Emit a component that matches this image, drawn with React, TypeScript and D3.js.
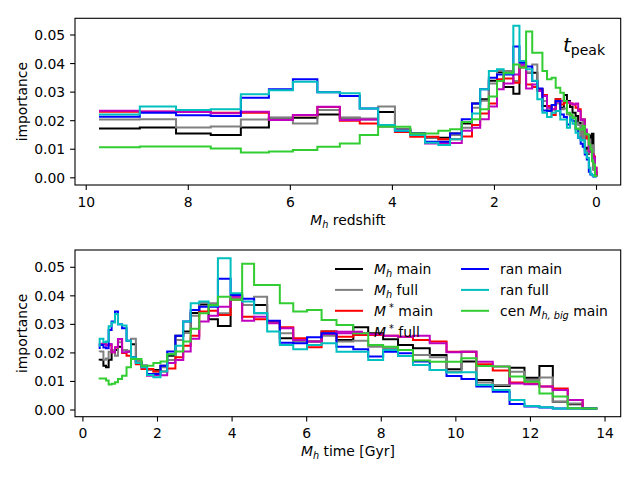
import React from "react";
import * as d3 from "d3";

// snapshot redshifts (top panel) and cosmic times in Gyr (bottom panel)
const snapZ = [
  9.75, 8.95, 8.24, 7.56, 6.97, 6.42, 5.95, 5.47, 5.03, 4.64,
  4.28, 3.95, 3.65, 3.36, 3.1, 2.87, 2.64, 2.44, 2.28, 2.11,
  1.95, 1.82, 1.63, 1.51, 1.38, 1.26, 1.16, 1.06, 0.97, 0.88,
  0.8, 0.71, 0.64, 0.58, 0.52, 0.47, 0.41, 0.36, 0.31, 0.27,
  0.23, 0.19, 0.15, 0.12, 0.09, 0.06, 0.03, 0.0,
];
const snapT = [
  0.45, 0.55, 0.62, 0.69, 0.77, 0.86, 0.94, 1.05, 1.17, 1.29,
  1.42, 1.57, 1.72, 1.89, 2.08, 2.26, 2.48, 2.69, 2.89, 3.12,
  3.37, 3.62, 3.96, 4.27, 4.59, 4.94, 5.28, 5.64, 6.01, 6.4,
  6.8, 7.25, 7.65, 8.05, 8.45, 8.85, 9.3, 9.75, 10.15, 10.55,
  10.99, 11.44, 11.84, 12.24, 12.6, 13.0, 13.4, 13.79,
];

// importance per snapshot
const mhMain = [
  0.0173, 0.0176, 0.0155, 0.015, 0.0176, 0.021, 0.021, 0.0222, 0.021, 0.0205,
  0.023, 0.017, 0.0155, 0.014, 0.014, 0.0155, 0.019, 0.026, 0.0275, 0.034,
  0.037, 0.0318, 0.0294, 0.039, 0.0368, 0.0368, 0.031, 0.0251, 0.0248, 0.024,
  0.0275, 0.0245, 0.029, 0.0269, 0.0248, 0.0228, 0.0216, 0.0193, 0.0143, 0.017,
  0.0105, 0.0084, 0.0148, 0.0113, 0.0154, 0.0029, 0.002, 0.0005,
];
const mhFull = [
  0.0204, 0.0205, 0.0176, 0.018, 0.0204, 0.021, 0.019, 0.0237, 0.021, 0.0208,
  0.025, 0.017, 0.015, 0.014, 0.0135, 0.015, 0.0175, 0.0245, 0.027, 0.033,
  0.0375, 0.0374, 0.0339, 0.039, 0.0368, 0.0397, 0.031, 0.0269, 0.024, 0.024,
  0.026, 0.024, 0.0243, 0.0222, 0.0216, 0.021, 0.0193, 0.0185, 0.0134, 0.0204,
  0.0096, 0.0088, 0.0134, 0.0105, 0.0114, 0.0029, 0.0023, 0.0005,
];
const smMain = [
  0.0231, 0.0231, 0.0233, 0.0228, 0.0228, 0.0202, 0.0219, 0.0248, 0.02, 0.019,
  0.0185, 0.016, 0.0144, 0.0144, 0.0135, 0.0135, 0.0145, 0.0185, 0.0225, 0.026,
  0.0345, 0.0348, 0.0333, 0.0386, 0.0327, 0.0318, 0.031, 0.029, 0.0251, 0.022,
  0.0275, 0.0257, 0.0263, 0.0263, 0.026, 0.0257, 0.0245, 0.024, 0.0204, 0.0204,
  0.016, 0.0138, 0.0096, 0.0093, 0.0082, 0.0075, 0.0035, 0.0006,
];
const smFull = [
  0.0235, 0.0232, 0.023, 0.0226, 0.0231, 0.0202, 0.022, 0.0249, 0.0202, 0.0204,
  0.018, 0.0165, 0.015, 0.012, 0.0122, 0.0122, 0.0165, 0.0175, 0.0205, 0.025,
  0.031, 0.033, 0.0362, 0.0397, 0.0313, 0.0327, 0.0304, 0.0286, 0.0245, 0.024,
  0.0266, 0.0269, 0.0269, 0.0265, 0.026, 0.0257, 0.026, 0.0234, 0.0202, 0.0204,
  0.0169, 0.0152, 0.0093, 0.009, 0.0082, 0.007, 0.0035, 0.0005,
];
const ranMain = [
  0.0214, 0.0228, 0.0219, 0.0216, 0.028, 0.031, 0.0345, 0.03, 0.0286, 0.0243,
  0.0185, 0.0165, 0.0155, 0.0126, 0.0126, 0.0155, 0.0205, 0.026, 0.031, 0.035,
  0.0362, 0.0362, 0.046, 0.0403, 0.039, 0.0339, 0.0313, 0.0236, 0.0234, 0.0255,
  0.0269, 0.0222, 0.0213, 0.0187, 0.0204, 0.0199, 0.017, 0.014, 0.0119, 0.0109,
  0.0082, 0.0064, 0.0021, 0.0012, 0.0009, 0.0005, 0.0005, 0.0005,
];
const ranFull = [
  0.0222, 0.025, 0.0237, 0.024, 0.0293, 0.0307, 0.0336, 0.03, 0.0296, 0.0243,
  0.0185, 0.0165, 0.015, 0.0123, 0.0115, 0.0135, 0.0195, 0.0225, 0.031, 0.0374,
  0.038, 0.0365, 0.0532, 0.0409, 0.038, 0.034, 0.0275, 0.0228, 0.0213, 0.0228,
  0.0234, 0.0204, 0.0204, 0.0175, 0.021, 0.0189, 0.0158, 0.014, 0.0131, 0.0132,
  0.0088, 0.007, 0.0035, 0.0014, 0.001, 0.0005, 0.0005, 0.0005,
];
const cenMain = [
  0.0107, 0.011, 0.011, 0.0103, 0.0089, 0.0092, 0.0097, 0.0109, 0.012, 0.015,
  0.0179, 0.0179, 0.0155, 0.0155, 0.0165, 0.017, 0.0195, 0.0205, 0.024, 0.0285,
  0.0339, 0.0368, 0.0397, 0.0386, 0.0512, 0.0438, 0.0438, 0.0374, 0.0345, 0.035,
  0.0315, 0.0298, 0.0269, 0.0228, 0.0222, 0.021, 0.0173, 0.0169, 0.0169, 0.0181,
  0.0154, 0.0152, 0.0117, 0.0099, 0.0058, 0.0047, 0.0006, 0.0005,
];

const zTicks = [10, 8, 6, 4, 2, 0];
const tTicks = [0, 2, 4, 6, 8, 10, 12, 14];
const yTicks = [0, 0.01, 0.02, 0.03, 0.04, 0.05];

const FONT = "DejaVu Sans";
const FS = 13.9;

const series = [
  { key: "mhMain", color: "#000000", values: mhMain },
  { key: "mhFull", color: "#808080", values: mhFull },
  { key: "smMain", color: "#ff0000", values: smMain },
  { key: "smFull", color: "#bf00bf", values: smFull },
  { key: "ranMain", color: "#0000ff", values: ranMain },
  { key: "ranFull", color: "#00bfbf", values: ranFull },
  { key: "cenMain", color: "#32cd32", values: cenMain },
];

const Mh = (sub: string) => (
  <>
    <tspan fontStyle="italic">M</tspan>
    <tspan fontStyle="italic" fontSize={FS * 0.7} dy={3}>{sub}</tspan>
  </>
);

function legendLabel(key: string) {
  switch (key) {
    case "mhMain":
      return <>{Mh("h")}<tspan dy={-3}>{" main"}</tspan></>;
    case "mhFull":
      return <>{Mh("h")}<tspan dy={-3}>{" full"}</tspan></>;
    case "smMain":
      return <><tspan fontStyle="italic">M</tspan><tspan fontSize={FS * 0.7} dy={-5}>{" *"}</tspan><tspan dy={5}>{" main"}</tspan></>;
    case "smFull":
      return <><tspan fontStyle="italic">M</tspan><tspan fontSize={FS * 0.7} dy={-5}>{" *"}</tspan><tspan dy={5}>{" full"}</tspan></>;
    case "ranMain":
      return "ran main";
    case "ranFull":
      return "ran full";
    default:
      return <><tspan>{"cen "}</tspan>{Mh("h, big")}<tspan dy={-3}>{" main"}</tspan></>;
  }
}

const L = 75;
const R = 620.7;

function Panel({ top, bottom, x, y, xs, curve, ticks, xlabel }: any) {
  const line = d3
    .line<number>()
    .x((_, i) => x(xs[i]))
    .y((v) => y(v))
    .curve(curve);
  return (
    <g>
      {series.map((s) => (
        <path key={s.key} d={line(s.values) || ""} fill="none" stroke={s.color} strokeWidth={2} strokeLinejoin="miter" />
      ))}
      <rect x={L} y={top} width={R - L} height={bottom - top} fill="none" stroke="#000" strokeWidth={1.1} />
      {yTicks.map((t) => (
        <g key={t}>
          <line x1={L - 4.9} x2={L} y1={y(t)} y2={y(t)} stroke="#000" strokeWidth={1.1} />
          <text x={L - 9.8} y={y(t) + 5} textAnchor="end" fontSize={FS}>
            {d3.format(".2f")(t)}
          </text>
        </g>
      ))}
      {ticks.map((t: number) => (
        <g key={t}>
          <line x1={x(t)} x2={x(t)} y1={bottom} y2={bottom + 4.9} stroke="#000" strokeWidth={1.1} />
          <text x={x(t)} y={bottom + 21.5} textAnchor="middle" fontSize={FS}>
            {t}
          </text>
        </g>
      ))}
      <text x={(L + R) / 2} y={bottom + 39.5} textAnchor="middle" fontSize={FS}>
        {Mh("h")}
        <tspan dy={-3}>{xlabel}</tspan>
      </text>
      <text transform={`translate(27,${(top + bottom) / 2}) rotate(-90)`} textAnchor="middle" fontSize={FS}>
        importance
      </text>
    </g>
  );
}

export default function App() {
  const topY0 = 18.3, topY1 = 185;
  const botY0 = 250, botY1 = 416.7;

  const xTop = d3.scaleLinear().domain([10.22, -0.474]).range([L, R]);
  const yTop = d3.scaleLinear().domain([-0.00252, 0.05585]).range([topY1, topY0]);
  const xBot = d3.scaleLinear().domain([-0.212, 14.42]).range([L, R]);
  const yBot = d3.scaleLinear().domain([-0.00235, 0.05606]).range([botY1, botY0]);

  const col1 = series.slice(0, 4);
  const col2 = series.slice(4);

  return (
    <svg
      width={640}
      height={480}
      style={{ position: "absolute", left: 0, top: 0, background: "#fff" }}
      fontFamily={FONT}
    >
      <rect width={640} height={480} fill="#fff" />
      <Panel
        top={topY0}
        bottom={topY1}
        x={xTop}
        y={yTop}
        xs={snapZ}
        curve={d3.curveStepAfter}
        ticks={zTicks}
        xlabel=" redshift"
      />
      <text x={563} y={51.5} fontSize={20} fontStyle="italic">
        t<tspan fontStyle="normal" fontSize={14} dy={3.5}>peak</tspan>
      </text>
      <Panel
        top={botY0}
        bottom={botY1}
        x={xBot}
        y={yBot}
        xs={snapT}
        curve={d3.curveStepBefore}
        ticks={tTicks}
        xlabel=" time [Gyr]"
      />
      {/* legend, no frame */}
      {[col1, col2].map((col, c) =>
        col.map((s, r) => {
          const hx = c === 0 ? 335 : 461;
          const cy = 269 + r * 20.9;
          return (
            <g key={s.key}>
              <line x1={hx} x2={hx + 28} y1={cy} y2={cy} stroke={s.color} strokeWidth={2} />
              <text x={hx + 39} y={cy + 5} fontSize={FS}>
                {legendLabel(s.key)}
              </text>
            </g>
          );
        })
      )}
    </svg>
  );
}
